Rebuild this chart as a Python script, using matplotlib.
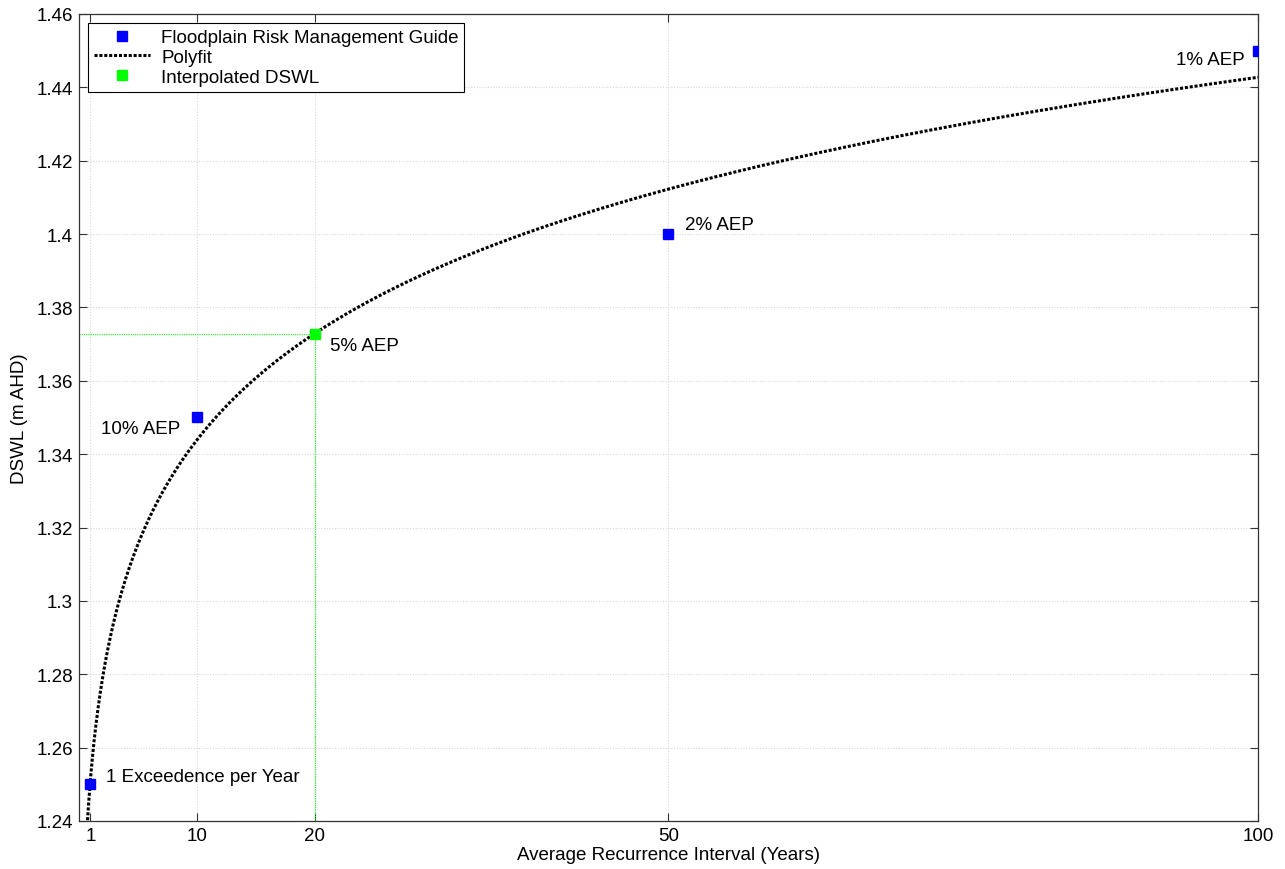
import matplotlib
matplotlib.use('Agg')
import matplotlib.pyplot as plt
import numpy as np
from matplotlib.ticker import FuncFormatter

plt.rcParams['font.family'] = ['Liberation Sans', 'DejaVu Sans']

# Floodplain Risk Management Guide design still water levels
ari = np.array([1, 10, 50, 100])
dswl = np.array([1.25, 1.35, 1.40, 1.45])
point_labels = ['1 Exceedence per Year', '10% AEP', '2% AEP', '1% AEP']

# ARI to interpolate at
ari_interp = 20
interp_label = '5% AEP'

x_ticks = [1, 10, 20, 50, 100]

# quadratic fit in log(ARI)
coef = np.polyfit(np.log(ari), dswl, 2)
x_fit = np.linspace(0.7, 100, 2000)
y_fit = np.polyval(coef, np.log(x_fit))
y_interp = np.polyval(coef, np.log(ari_interp))

fig = plt.figure(figsize=(12.85, 8.7), dpi=100)
ax = fig.add_axes([0.0612, 0.0552, 0.9178, 0.9276])

ax.set_xlim(0, 100)
ax.set_ylim(1.24, 1.46)

# guide lines to the interpolated point
ax.plot([0, ari_interp], [y_interp, y_interp], color='#00ff00', lw=0.8, ls=(0, (1, 1)), zorder=2)
ax.plot([ari_interp, ari_interp], [1.24, y_interp], color='#00ff00', lw=0.8, ls=(0, (1, 1)), zorder=2)

ax.plot(ari, dswl, 's', color='#0000ff', ms=7, ls='none',
        label='Floodplain Risk Management Guide', zorder=4)
ax.plot(x_fit, y_fit, color='black', lw=2.2, ls=(0, (1, 0.6)), label='Polyfit', zorder=3)
ax.plot([ari_interp], [y_interp], 's', color='#00ff00', ms=7, ls='none',
        label='Interpolated DSWL', zorder=5)

# point annotations
fs = 13.5
ax.text(ari[0] + 1.3, dswl[0] + 0.002, point_labels[0], fontsize=fs, ha='left', va='center')
ax.text(ari[1] - 1.4, dswl[1] - 0.003, point_labels[1], fontsize=fs, ha='right', va='center')
ax.text(ari[2] + 1.4, dswl[2] + 0.0025, point_labels[2], fontsize=fs, ha='left', va='center')
ax.text(ari[3] - 1.1, dswl[3] - 0.0025, point_labels[3], fontsize=fs, ha='right', va='center')
ax.text(ari_interp + 1.3, y_interp - 0.0033, interp_label, fontsize=fs, ha='left', va='center')

ax.set_xticks(x_ticks)
ax.set_yticks(np.arange(1.24, 1.4601, 0.02))
ax.yaxis.set_major_formatter(FuncFormatter(lambda v, p: '%g' % round(v, 2)))
ax.tick_params(direction='in', top=True, right=True, length=6, width=0.8,
               labelsize=fs, color='#333333', pad=4)
ax.grid(True, color='#d8d8d8', ls=(0, (1, 1.5)), lw=0.8)
ax.set_axisbelow(True)
for s in ax.spines.values():
    s.set_color('#333333')
    s.set_linewidth(0.9)

ax.set_xlabel('Average Recurrence Interval (Years)', fontsize=fs, labelpad=2)
ax.set_ylabel('DSWL (m AHD)', fontsize=fs, labelpad=6)

leg = ax.legend(loc='upper left', fontsize=fs, fancybox=False, framealpha=1,
                edgecolor='black', borderaxespad=0.5, handlelength=3.0,
                handletextpad=0.6, labelspacing=0.15, borderpad=0.3)
leg.get_frame().set_linewidth(0.8)

fig.savefig('out.png', dpi=100)
